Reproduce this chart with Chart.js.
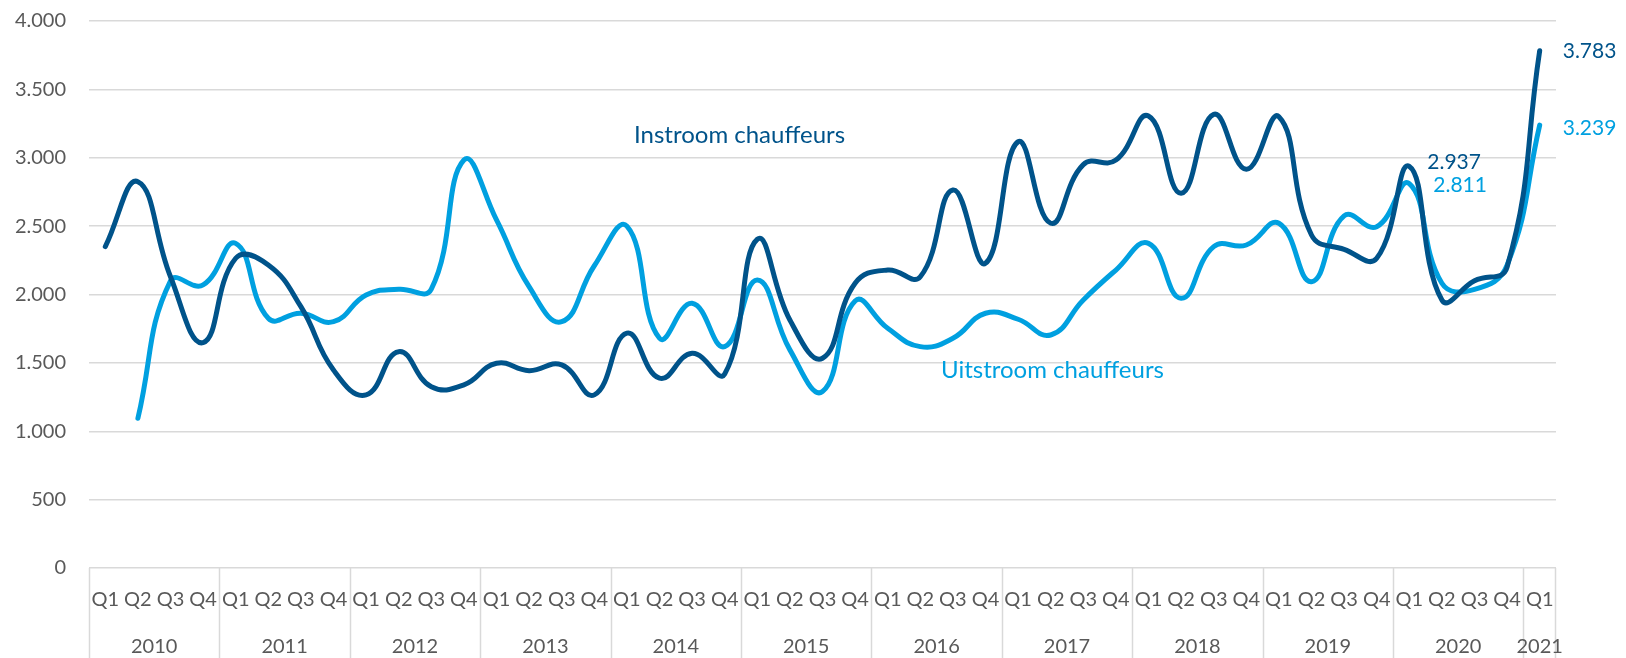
<!DOCTYPE html>
<html>
<head>
<meta charset="utf-8">
<script src="https://cdn.jsdelivr.net/npm/chart.js@4/dist/chart.umd.min.js"></script>
<style>
  html, body { margin: 0; padding: 0; background: #ffffff; }
  #wrap { position: relative; width: 1626px; height: 658px; }
</style>
</head>
<body>
<div id="wrap"><canvas id="c" width="1626" height="658"></canvas></div>
<script>
const years = ['2010','2011','2012','2013','2014','2015','2016','2017','2018','2019','2020','2021'];
const quarters = ['Q1','Q2','Q3','Q4'];
const categories = [];
years.forEach(y => quarters.forEach(q => { if (!(y === '2021' && q !== 'Q1')) categories.push(q + ' ' + y); }));

const instroom = [
  2350, 2825, 2130, 1648,
  2265, 2216, 1911, 1448,
  1266, 1582, 1326, 1339,
  1497, 1443, 1485, 1266,
  1717, 1388, 1570, 1419,
  2404, 1814, 1534, 2082,
  2179, 2130, 2764, 2228,
  3117, 2521, 2950, 2983,
  3305, 2740, 3317, 2916,
  3300, 2435, 2330, 2265,
  2937, 1960, 2100, 2200,
  3783
];
const uitstroom = [
  null, 1095, 2100, 2070,
  2374, 1826, 1863, 1801,
  1997, 2038, 2040, 2983,
  2545, 2057, 1801, 2210,
  2500, 1680, 1936, 1619,
  2106, 1595, 1290, 1953,
  1753, 1619, 1680, 1863,
  1819, 1704, 1960, 2179,
  2374, 1972, 2350, 2362,
  2521, 2094, 2575, 2496,
  2811, 2082, 2038, 2215,
  3239
];
const yTicks = [0, 500, 1000, 1500, 2000, 2500, 3000, 3500, 4000];

const DARK = '#00538A';
const LIGHT = '#00A0E0';
const GRID = '#d9d9d9';
const TXT = '#595959';
const FONT = 'Lato';

function fmt(v) { return String(v).replace(/\B(?=(\d{3})+(?!\d))/g, '.'); }

const overlay = {
  id: 'overlay',
  afterDraw(chart) {
    const ctx = chart.ctx;
    const xs = chart.scales.x, ys = chart.scales.y;
    const ca = chart.chartArea;
    const n = categories.length;
    const step = (ca.right - ca.left) / n;
    ctx.save();
    // year separators below the axis
    ctx.strokeStyle = GRID;
    ctx.lineWidth = 1.5;
    for (let i = 0; i <= n; i += 4) {
      const x = Math.round(ca.left + step * i) + 0.5;
      ctx.beginPath(); ctx.moveTo(x, ca.bottom); ctx.lineTo(x, chart.height); ctx.stroke();
    }
    const xr = Math.round(ca.right) - 0.5;
    ctx.beginPath(); ctx.moveTo(xr, ca.bottom); ctx.lineTo(xr, chart.height); ctx.stroke();
    // year labels
    ctx.fillStyle = TXT;
    ctx.font = '20px ' + FONT;
    ctx.textAlign = 'center';
    ctx.textBaseline = 'middle';
    years.forEach((y, k) => {
      const first = k * 4;
      const last = Math.min(first + 3, n - 1);
      const cx = (xs.getPixelForValue(first) + xs.getPixelForValue(last)) / 2;
      ctx.fillText(y, cx, 647);
    });
    // series annotations
    ctx.textAlign = 'left';
    ctx.font = '24px ' + FONT;
    ctx.fillStyle = DARK;
    ctx.fillText('Instroom chauffeurs', 634, 135);
    ctx.fillStyle = LIGHT;
    ctx.fillText('Uitstroom chauffeurs', 941, 370);
    // value labels
    ctx.font = '21px ' + FONT;
    const lastI = n - 1;
    ctx.fillStyle = DARK;
    ctx.fillText(fmt(instroom[lastI]), xs.getPixelForValue(lastI) + 23, ys.getPixelForValue(instroom[lastI]) + 1);
    ctx.fillText(fmt(instroom[40]), xs.getPixelForValue(40) + 18, ys.getPixelForValue(instroom[40]) - 4);
    ctx.fillStyle = LIGHT;
    ctx.fillText(fmt(uitstroom[lastI]), xs.getPixelForValue(lastI) + 23, ys.getPixelForValue(uitstroom[lastI]) + 3);
    ctx.fillText(fmt(uitstroom[40]), xs.getPixelForValue(40) + 24, ys.getPixelForValue(uitstroom[40]) + 2);
    ctx.restore();
  }
};

new Chart(document.getElementById('c'), {
  type: 'line',
  data: {
    labels: categories,
    datasets: [
      { label: 'Instroom chauffeurs', data: instroom, borderColor: DARK, borderWidth: 5, tension: 0.45,
        pointRadius: 0, borderCapStyle: 'round', borderJoinStyle: 'round', fill: false },
      { label: 'Uitstroom chauffeurs', data: uitstroom, borderColor: LIGHT, borderWidth: 5, tension: 0.45,
        pointRadius: 0, borderCapStyle: 'round', borderJoinStyle: 'round', fill: false, spanGaps: false }
    ]
  },
  options: {
    responsive: false,
    animation: false,
    layout: { padding: { top: 21, right: 70, bottom: 0, left: 0 } },
    plugins: { legend: { display: false }, tooltip: { enabled: false } },
    scales: {
      x: {
        type: 'category',
        offset: true,
        grid: { display: false, drawTicks: false },
        border: { display: false },
        ticks: {
          autoSkip: false, maxRotation: 0, minRotation: 0, padding: 20,
          color: TXT, font: { family: FONT, size: 20 },
          callback: function(v) { return categories[v].split(' ')[0]; }
        },
        afterFit: function(s) { s.height = 90; }
      },
      y: {
        min: 0, max: 4000,
        afterBuildTicks: function(s) { s.ticks = yTicks.map(v => ({ value: v })); },
        grid: { color: GRID, lineWidth: 1.5, drawTicks: false },
        border: { display: false },
        ticks: { color: TXT, padding: 23, font: { family: FONT, size: 20 }, callback: v => fmt(v) },
        afterFit: function(s) { s.width = 89; s.paddingTop = 12; s.paddingBottom = 12; }
      }
    }
  },
  plugins: [overlay]
});
</script>
</body>
</html>
